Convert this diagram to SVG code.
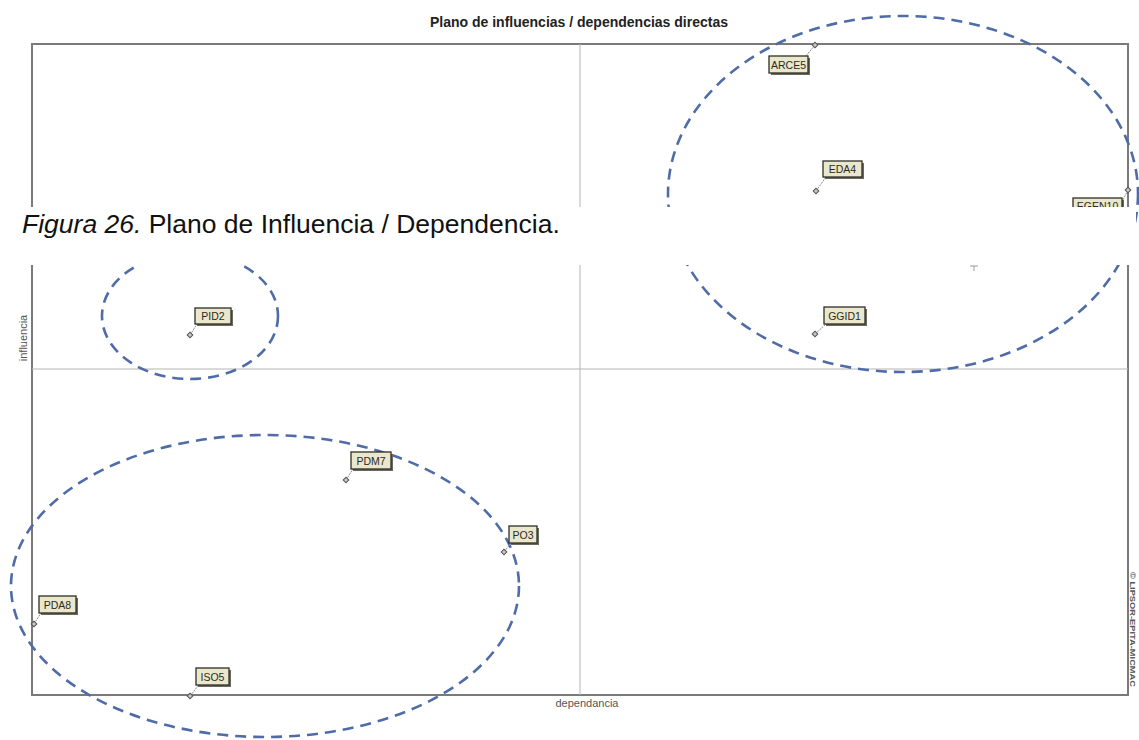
<svg xmlns="http://www.w3.org/2000/svg" width="1139" height="740" viewBox="0 0 1139 740">
<defs>
<style>
.frame{fill:none;stroke:#7a7a7a;stroke-width:2}
.mid{stroke:#b4b4b4;stroke-width:1}
.clu{fill:none;stroke:#4f6ca8;stroke-width:2.6;stroke-dasharray:11 7}
.lead{stroke:#8a8a8a;stroke-width:1;stroke-dasharray:2 1}
.pt{fill:#c8c8c8;stroke:#555;stroke-width:1}
.box{fill:#ebe7cc;stroke:#2e2e26;stroke-width:1.3}
.sh{fill:#6a6a62}
.lbl{font-family:"Liberation Sans",Arial,sans-serif;font-size:10.5px;fill:#2a2a22}
.ax{font-family:"Liberation Sans",Arial,sans-serif;font-size:11px;fill:#555}
</style>
</defs>
<rect x="0" y="0" width="1139" height="740" fill="#ffffff"/>
<text x="579" y="27" text-anchor="middle" font-family="Liberation Sans, Arial, sans-serif" font-weight="bold" font-size="14" fill="#222">Plano de influencias / dependencias directas</text>
<g id="plot">
<rect class="frame" x="32" y="44" width="1096" height="651"/>
<line class="mid" x1="580" y1="44" x2="580" y2="695"/>
<line class="mid" x1="32" y1="369" x2="1128" y2="369"/>
<text class="ax" x="587" y="707" text-anchor="middle">dependancia</text>
<text class="ax" transform="translate(27,338) rotate(-90)" text-anchor="middle" font-size="11">influencia</text>
<text transform="translate(1130,572) rotate(90)" font-family="Liberation Sans, Arial, sans-serif" font-weight="bold" font-size="7.5" fill="#555" textLength="115" lengthAdjust="spacingAndGlyphs">© LIPSOR-EPITA-MICMAC</text>
</g>
<g id="clusters">
<ellipse class="clu" cx="903" cy="194" rx="235" ry="178"/>
<ellipse class="clu" cx="190" cy="316" rx="88" ry="63"/>
<ellipse class="clu" cx="265" cy="586" rx="254" ry="151"/>
</g>
<g id="connectors">
<line class="lead" x1="815" y1="45" x2="806" y2="56"/>
<line class="lead" x1="816" y1="191" x2="826" y2="177"/>
<line class="lead" x1="1128" y1="190" x2="1123" y2="200"/>
<line class="lead" x1="815" y1="334" x2="826" y2="324"/>
<line class="lead" x1="190" y1="335" x2="197" y2="324"/>
<line class="lead" x1="346" y1="480" x2="353" y2="469"/>
<line class="lead" x1="504" y1="552" x2="511" y2="543"/>
<line class="lead" x1="34" y1="624" x2="41" y2="613"/>
<line class="lead" x1="190" y1="696" x2="198" y2="686"/>
<path d="M970 266 h8 M974 266 v5" stroke="#999" stroke-width="1" fill="none"/>
</g>
<g id="n-ARCE5"><rect class="pt" x="813" y="43" width="4" height="4" transform="rotate(45 815 45)"/><rect class="sh" x="771" y="58" width="39" height="17"/><rect class="box" x="769" y="56" width="39" height="17"/><text class="lbl" x="788.5" y="68.5" text-anchor="middle">ARCE5</text></g>
<g id="n-EDA4"><rect class="pt" x="814" y="189" width="4" height="4" transform="rotate(45 816 191)"/><rect class="sh" x="825" y="163" width="39" height="16"/><rect class="box" x="823" y="161" width="39" height="16"/><text class="lbl" x="842.5" y="173" text-anchor="middle">EDA4</text></g>
<g id="n-EGEN10"><rect class="pt" x="1126" y="188" width="4" height="4" transform="rotate(45 1128 190)"/><rect class="sh" x="1075" y="200" width="49" height="16"/><rect class="box" x="1073" y="198" width="49" height="16"/><text class="lbl" x="1097.5" y="210" text-anchor="middle">EGEN10</text></g>
<g id="n-GGID1"><rect class="pt" x="813" y="332" width="4" height="4" transform="rotate(45 815 334)"/><rect class="sh" x="826" y="309" width="41" height="17"/><rect class="box" x="824" y="307" width="41" height="17"/><text class="lbl" x="844.5" y="319.5" text-anchor="middle">GGID1</text></g>
<g id="n-PID2"><rect class="pt" x="188" y="333" width="4" height="4" transform="rotate(45 190 335)"/><rect class="sh" x="197" y="310" width="36" height="16"/><rect class="box" x="195" y="308" width="36" height="16"/><text class="lbl" x="213" y="320" text-anchor="middle">PID2</text></g>
<g id="n-PDM7"><rect class="pt" x="344" y="478" width="4" height="4" transform="rotate(45 346 480)"/><rect class="sh" x="353" y="454" width="40" height="17"/><rect class="box" x="351" y="452" width="40" height="17"/><text class="lbl" x="371" y="464.5" text-anchor="middle">PDM7</text></g>
<g id="n-PO3"><rect class="pt" x="502" y="550" width="4" height="4" transform="rotate(45 504 552)"/><rect class="sh" x="511" y="528" width="28" height="17"/><rect class="box" x="509" y="526" width="28" height="17"/><text class="lbl" x="523" y="538.5" text-anchor="middle">PO3</text></g>
<g id="n-PDA8"><rect class="pt" x="32" y="622" width="4" height="4" transform="rotate(45 34 624)"/><rect class="sh" x="41" y="598" width="37" height="17"/><rect class="box" x="39" y="596" width="37" height="17"/><text class="lbl" x="57.5" y="608.5" text-anchor="middle">PDA8</text></g>
<g id="n-ISO5"><rect class="pt" x="188" y="694" width="4" height="4" transform="rotate(45 190 696)"/><rect class="sh" x="198" y="670" width="33" height="17"/><rect class="box" x="196" y="668" width="33" height="17"/><text class="lbl" x="212.5" y="680.5" text-anchor="middle">ISO5</text></g>
<g id="caption">
<rect x="0" y="207" width="1136" height="58" fill="#ffffff"/>
<text x="22" y="233" font-family="Liberation Sans, Arial, sans-serif" font-size="26.5" fill="#111"><tspan font-style="italic">Figura 26.</tspan> Plano de Influencia / Dependencia.</text>
</g>
</svg>
